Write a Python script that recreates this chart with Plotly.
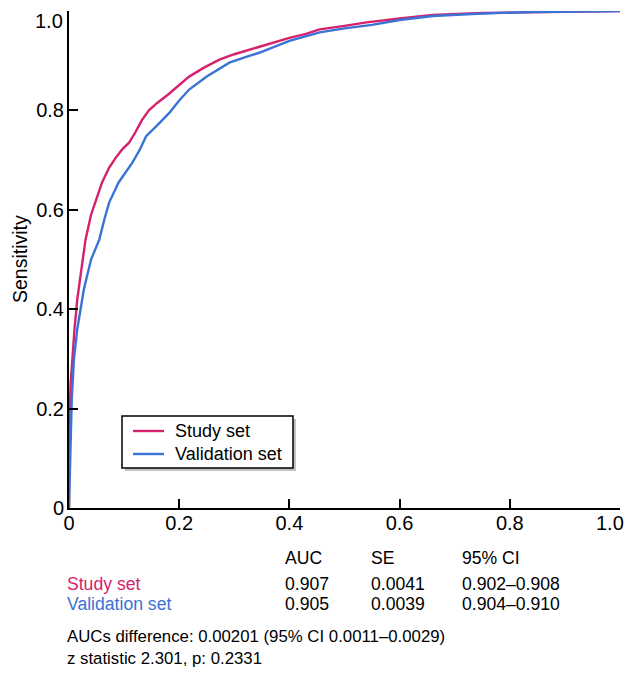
import plotly.graph_objects as go

# ROC data
study_fpr = [0, 0.0, 0.003, 0.006, 0.010, 0.015, 0.022, 0.030, 0.040, 0.050, 0.060, 0.073, 0.085,
             0.097, 0.109, 0.120, 0.132, 0.145, 0.160, 0.180, 0.200, 0.218, 0.245, 0.273, 0.300,
             0.327, 0.360, 0.400, 0.430, 0.455, 0.50, 0.54, 0.60, 0.66, 0.75, 0.842, 0.92, 1.0]
study_tpr = [0, 0.15, 0.25, 0.30, 0.36, 0.42, 0.48, 0.54, 0.59, 0.625, 0.655, 0.685, 0.705,
             0.722, 0.735, 0.755, 0.78, 0.80, 0.815, 0.832, 0.850, 0.868, 0.886, 0.902, 0.913,
             0.922, 0.933, 0.946, 0.954, 0.963, 0.970, 0.977, 0.985, 0.992, 0.996, 0.998, 0.999, 1.0]

valid_fpr = [0, 0.003, 0.005, 0.009, 0.015, 0.021, 0.027, 0.040, 0.055, 0.064, 0.073, 0.090,
             0.105, 0.115, 0.128, 0.140, 0.160, 0.182, 0.200, 0.218, 0.250, 0.291, 0.320, 0.345,
             0.400, 0.455, 0.50, 0.55, 0.60, 0.66, 0.75, 0.842, 1.0]
valid_tpr = [0, 0.15, 0.22, 0.30, 0.36, 0.40, 0.44, 0.50, 0.54, 0.58, 0.615, 0.655,
             0.68, 0.695, 0.72, 0.748, 0.77, 0.795, 0.82, 0.842, 0.868, 0.896, 0.907, 0.916,
             0.94, 0.957, 0.965, 0.972, 0.982, 0.990, 0.995, 0.998, 1.0]

series_names = ["Study set", "Validation set"]
tick_vals = [0, 0.2, 0.4, 0.6, 0.8, 1.0]
tick_text = ["0", "0.2", "0.4", "0.6", "0.8", "1.0"]
y_title = "Sensitivity"

table_header = ["AUC", "SE", "95% CI"]
auc_vals = ["0.907", "0.905"]
se_vals = ["0.0041", "0.0039"]
ci_vals = ["0.902\u20130.908", "0.904\u20130.910"]
footer_lines = ["AUCs difference: 0.00201 (95% CI 0.0011\u20130.0029)",
                "z statistic 2.301, p: 0.2331"]

PINK = "#d6226c"
BLUE = "#3a73d6"
FONT = "Liberation Sans, Arial, sans-serif"
TICK_SIZE = 20

# page body has an 8px margin on every side; keep the figure inside the
# 633x677 window (no scrollbars) and lay things out in page pixels
OFF = 8
PAGE_W, PAGE_H = 633, 677
fig_left, fig_top = OFF, OFF
fig_right, fig_bottom = PAGE_W - OFF, PAGE_H - OFF
W, H = fig_right - fig_left, fig_bottom - fig_top
plot_left, plot_right, plot_top, plot_bottom = 69, 620, 11, 508
L, R = plot_left - fig_left, fig_right - plot_right
T, B = plot_top - fig_top, fig_bottom - plot_bottom


def px2x(px):
    return (px - plot_left) / (plot_right - plot_left)


def px2y(py):
    return (plot_bottom - py) / (plot_bottom - plot_top)


fig = go.Figure()
colors = [PINK, BLUE]
for name, xs, ys, c in zip(series_names, [study_fpr, valid_fpr], [study_tpr, valid_tpr], colors):
    fig.add_trace(go.Scatter(x=xs, y=ys, mode="lines", name=name, showlegend=False,
                             line=dict(color=c, width=2.4)))

# the last tick label on each axis sits at the page edge, so it is drawn as an annotation
axis_ticktext = tick_text[:-1] + [""]
axis_common = dict(showgrid=False, zeroline=False, showline=True, linecolor="black", linewidth=2,
                   ticks="inside", ticklen=9, tickwidth=1.5, tickcolor="black",
                   tickvals=tick_vals, ticktext=axis_ticktext, automargin=False,
                   tickfont=dict(family=FONT, size=TICK_SIZE, color="black"))

fig.update_xaxes(range=[0, 1], ticklabelstandoff=-4, **axis_common)
fig.update_yaxes(range=[0, 1], ticklabelstandoff=-1, **axis_common)

anns = []
txt_font = dict(family=FONT, size=17.6, color="black")
col_x = [283, 369, 460]
for cx, h in zip(col_x, table_header):
    anns.append(dict(x=px2x(cx), y=px2y(558), text=h))
rows_y = [584, 604]
for i in range(2):
    anns.append(dict(x=px2x(65), y=px2y(rows_y[i]), text=series_names[i],
                     font=dict(family=FONT, size=17.6, color=colors[i])))
    anns.append(dict(x=px2x(col_x[0]), y=px2y(rows_y[i]), text=auc_vals[i]))
    anns.append(dict(x=px2x(col_x[1]), y=px2y(rows_y[i]), text=se_vals[i]))
    anns.append(dict(x=px2x(col_x[2]), y=px2y(rows_y[i]), text=ci_vals[i]))

footer_font = dict(family=FONT, size=16.8, color="black")
for yy, t in zip([636, 658], footer_lines):
    anns.append(dict(x=px2x(65), y=px2y(yy), text=t, font=footer_font))

# manual legend
leg_rows = [431, 454]
for i in range(2):
    anns.append(dict(x=px2x(173), y=px2y(leg_rows[i]), text=series_names[i],
                     font=dict(family=FONT, size=18, color="black")))

for a in anns:
    a.setdefault("font", txt_font)
    a.update(xref="paper", yref="paper", xanchor="left", yanchor="middle", showarrow=False)

tick_font = dict(family=FONT, size=TICK_SIZE, color="black")
anns.append(dict(x=px2x(64), y=px2y(9), text=tick_text[-1], xref="paper", yref="paper",
                 xanchor="right", yanchor="top", showarrow=False, borderpad=0, font=tick_font))
anns.append(dict(x=px2x(fig_right), y=px2y(523), text=tick_text[-1], xref="paper", yref="paper",
                 xanchor="right", yanchor="middle", showarrow=False, borderpad=0, font=tick_font))

anns.append(dict(x=px2x(8), y=px2y(259), text=y_title, textangle=-90, xref="paper", yref="paper",
                 xanchor="left", yanchor="middle", showarrow=False, borderpad=0,
                 font=dict(family=FONT, size=19.5, color="black")))

shapes = [
    dict(type="rect", xref="paper", yref="paper",
         x0=px2x(125), x1=px2x(296), y0=px2y(471), y1=px2y(419),
         fillcolor="#c4c4c4", line=dict(width=0), layer="above"),
    dict(type="rect", xref="paper", yref="paper",
         x0=px2x(122), x1=px2x(293), y0=px2y(468), y1=px2y(416),
         fillcolor="white", line=dict(color="black", width=1.5), layer="above"),
]
for i in range(2):
    shapes.append(dict(type="line", xref="paper", yref="paper",
                       x0=px2x(133), x1=px2x(164), y0=px2y(leg_rows[i]), y1=px2y(leg_rows[i]),
                       line=dict(color=colors[i], width=2.4), layer="above"))

fig.update_layout(
    width=W, height=H,
    margin=dict(l=L, r=R, t=T, b=B, autoexpand=False),
    paper_bgcolor="white", plot_bgcolor="white",
    showlegend=False,
    annotations=anns,
    shapes=shapes,
)

fig.write_html("out.html")
